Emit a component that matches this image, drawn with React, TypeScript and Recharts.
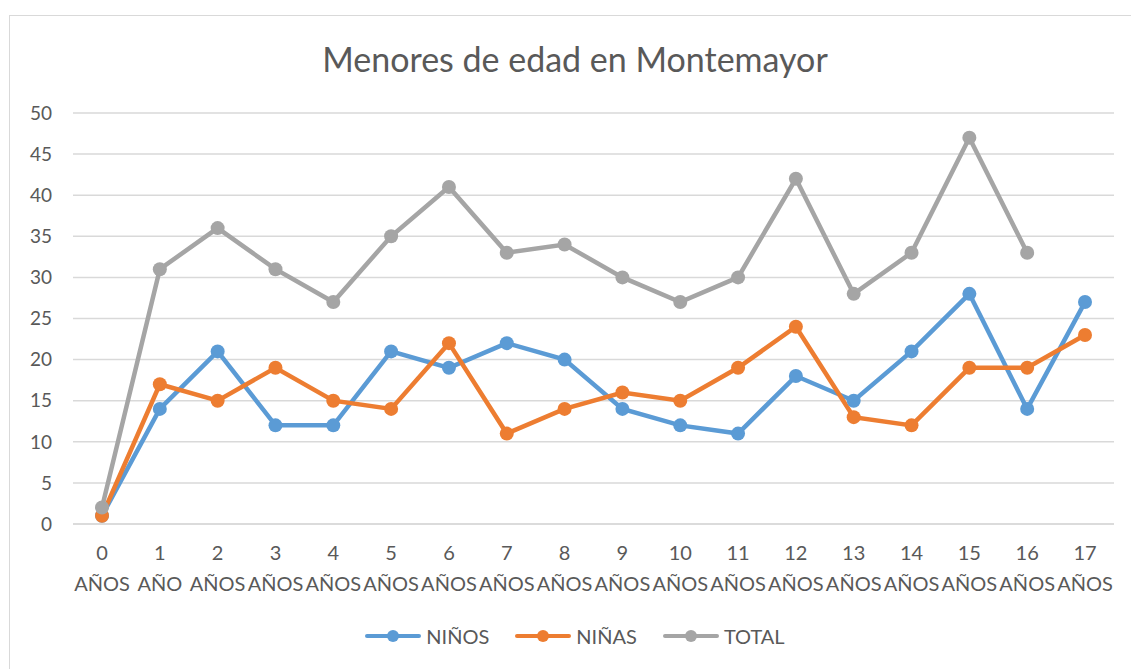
import React from "react"
import { LineChart, Line, XAxis, YAxis, CartesianGrid } from "recharts"

// ── data ──────────────────────────────────────────────────────
const edades = ["0", "1", "2", "3", "4", "5", "6", "7", "8", "9", "10", "11", "12", "13", "14", "15", "16", "17"]
const unidades = ["AÑOS", "AÑO", "AÑOS", "AÑOS", "AÑOS", "AÑOS", "AÑOS", "AÑOS", "AÑOS", "AÑOS", "AÑOS", "AÑOS", "AÑOS", "AÑOS", "AÑOS", "AÑOS", "AÑOS", "AÑOS"]
const ninos = [1, 14, 21, 12, 12, 21, 19, 22, 20, 14, 12, 11, 18, 15, 21, 28, 14, 27]
const ninas = [1, 17, 15, 19, 15, 14, 22, 11, 14, 16, 15, 19, 24, 13, 12, 19, 19, 23]
const total = [2, 31, 36, 31, 27, 35, 41, 33, 34, 30, 27, 30, 42, 28, 33, 47, 33, null]
const yTicks = [0, 5, 10, 15, 20, 25, 30, 35, 40, 45, 50]

const data = edades.map((e, i) => ({
  cat: i,
  label: e,
  unidad: unidades[i],
  ninos: ninos[i],
  ninas: ninas[i],
  total: total[i],
}))

const SERIES = [
  { key: "ninos", name: "NIÑOS", color: "#5B9BD5" },
  { key: "ninas", name: "NIÑAS", color: "#ED7D31" },
  { key: "total", name: "TOTAL", color: "#A5A5A5" },
]

const FONT = "Lato, 'Open Sans', sans-serif"
const TEXT = "#595959"

function XTick({ x, y, payload }: any) {
  const d = data[payload.value]
  return (
    <g>
      <text x={x} y={y + 28} textAnchor="middle" fill={TEXT} fontSize={20} fontFamily={FONT}>
        {d ? d.label : ""}
      </text>
      <text x={x} y={y + 59} textAnchor="middle" fill={TEXT} fontSize={20} fontFamily={FONT}>
        {d ? d.unidad : ""}
      </text>
    </g>
  )
}

function LegendBox() {
  return (
    <div
      style={{
        position: "absolute",
        left: 0,
        width: 1150,
        top: 624,
        display: "flex",
        justifyContent: "center",
        gap: 26,
        fontFamily: FONT,
        fontSize: 20,
        color: TEXT,
      }}
    >
      {SERIES.map((s) => (
        <div key={s.key} style={{ display: "flex", alignItems: "center" }}>
          <svg width={56} height={16} style={{ marginRight: 5 }}>
            <line x1={2} y1={8} x2={54} y2={8} stroke={s.color} strokeWidth={4} strokeLinecap="round" />
            <circle cx={28} cy={8} r={6} fill={s.color} />
          </svg>
          <span>{s.name}</span>
        </div>
      ))}
    </div>
  )
}

export default function App() {
  return (
    <div style={{ position: "absolute", left: 0, top: 0, width: 1131, height: 669, background: "#fff", overflow: "hidden" }}>
      <div style={{ position: "absolute", left: 9, top: 15, width: 1140, height: 680, border: "1px solid #D9D9D9" }} />
      <div
        style={{
          position: "absolute",
          left: 0,
          width: 1150,
          top: 38,
          textAlign: "center",
          fontFamily: FONT,
          fontSize: 34,
          color: TEXT,
        }}
      >
        Menores de edad en Montemayor
      </div>
      <div style={{ position: "absolute", left: 0, top: 0 }}>
        <LineChart width={1131} height={669} data={data} margin={{ top: 113, right: 17, left: 13, bottom: 65 }}>
          <CartesianGrid vertical={false} stroke="#D9D9D9" strokeWidth={1.5} />
          <XAxis
            dataKey="cat"
            type="category"
            axisLine={{ stroke: "#D9D9D9", strokeWidth: 1.5 }}
            tickLine={false}
            interval={0}
            tick={<XTick />}
            height={80}
            padding={{ left: 29, right: 29 }}
          />
          <YAxis
            domain={[0, 50]}
            ticks={yTicks}
            width={60}
            axisLine={false}
            tickLine={false}
            tickMargin={15}
            tick={{ fill: TEXT, fontSize: 19, fontFamily: FONT }}
          />
          {SERIES.map((s) => (
            <Line
              key={s.key}
              dataKey={s.key}
              name={s.name}
              stroke={s.color}
              strokeWidth={4.5}
              dot={{ r: 7, fill: s.color, stroke: s.color, strokeWidth: 0 }}
              activeDot={false}
              isAnimationActive={false}
              type="linear"
            />
          ))}
        </LineChart>
      </div>
      <LegendBox />
    </div>
  )
}
